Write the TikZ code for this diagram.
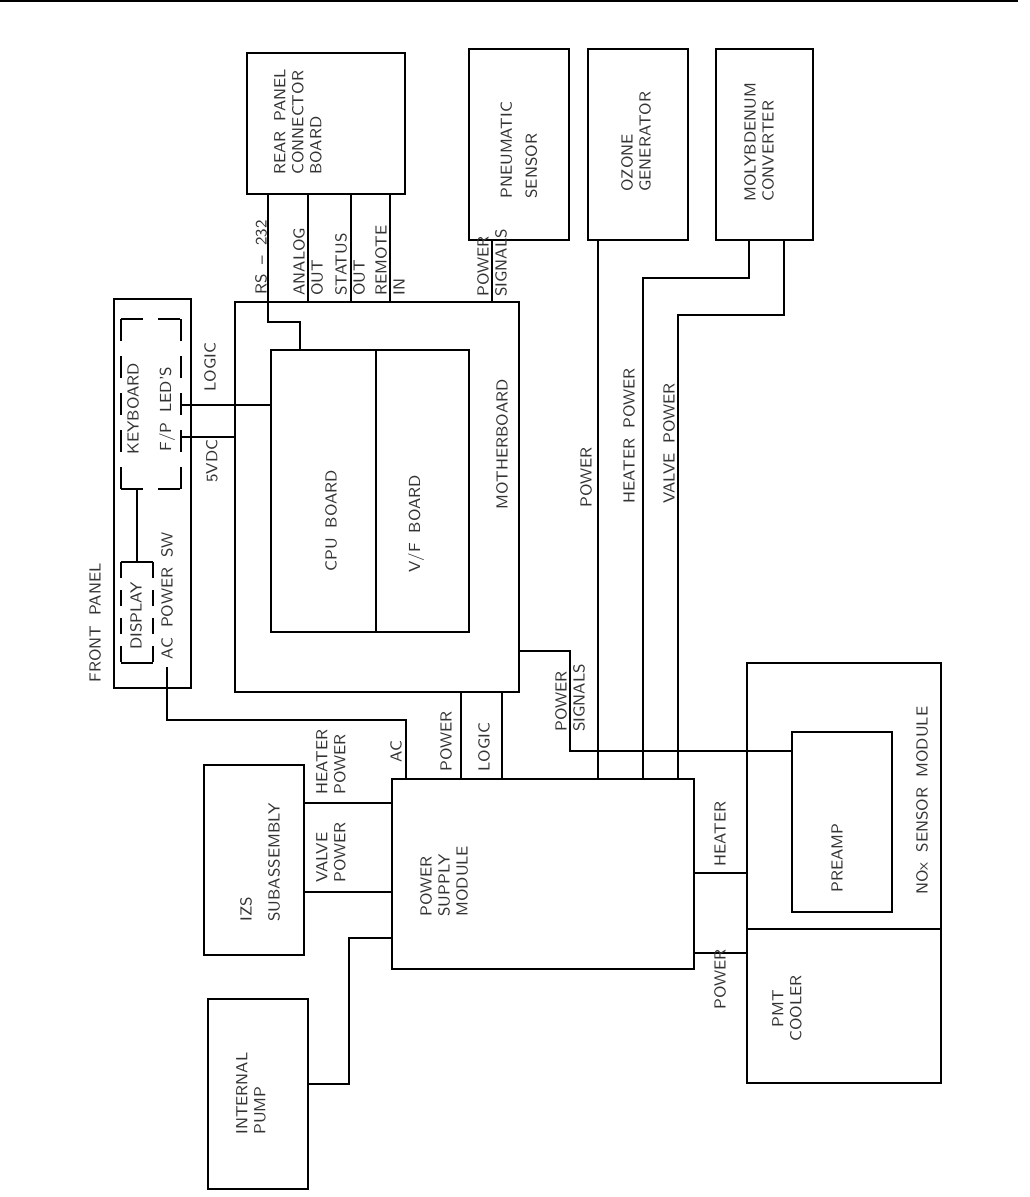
\documentclass[tikz,border=0pt]{standalone}
\usepackage{tikz}
\usetikzlibrary{positioning, fit, calc}
\newcommand{\lblfont}{\fontsize{8}{9}\selectfont\sffamily\spaceskip 5pt\relax}

\begin{document}
\begin{tikzpicture}[
  x=0.5pt, y=-0.5pt,
  box/.style={draw, line width=0.6pt, inner sep=0pt, outer sep=0pt},
  frame/.style={inner sep=0pt, outer sep=0pt},
  wire/.style={line width=0.6pt},
  brk/.style={line width=0.6pt, dash pattern=on 11pt off 7.5pt},
  brkshort/.style={line width=0.6pt, dash pattern=on 8pt off 6pt},
  lbl/.style={rotate=90, anchor=west, inner sep=0pt, align=left,
    font=\lblfont, text=black!80}
]
  \useasboundingbox (0,0) rectangle (1029,1197);
  % Page rule
  \draw[wire] (0,1) -- (1018,1);

  % Front panel
  \node[box, fit={(114,299) (191,688)}] (front) {};
  \node[frame, fit={(121,319) (181,489)}] (kbd) {};
  \node[frame, fit={(121,562) (153,663)}] (disp) {};
  \foreach \a/\b in {north west/north east, south west/south east,
                     north west/south west, north east/south east}
    \draw[brk] (kbd.\a) -- (kbd.\b);
  \draw[wire] (disp.north west) -- (disp.north east);
  \draw[wire] (disp.south west) -- (disp.south east);
  \draw[brkshort] (disp.north west) -- (disp.south west);
  \draw[brkshort] (disp.north east) -- (disp.south east);

  % Boxes
  \node[box, fit={(247,53) (405,194)}] (rear) {};
  \node[box, fit={(469,49) (569,240)}] (pneu) {};
  \node[box, fit={(588,49) (688,240)}] (ozone) {};
  \node[box, fit={(716,49) (813,240)}] (moly) {};
  \node[box, fit={(235,302) (519,692)}] (mb) {};
  \node[box, fit={(271,350) (376,632)}] (cpu) {};
  \node[box, fit={(376,350) (469,632)}] (vf) {};
  \node[box, fit={(392,779) (694,969)}] (psu) {};
  \node[box, fit={(204,765) (304,955)}] (izs) {};
  \node[box, fit={(208,999) (308,1189)}] (pump) {};
  \node[box, fit={(747,663) (941,929)}] (nox) {};
  \node[box, fit={(747,929) (941,1083)}] (pmt) {};
  \node[box, fit={(792,732) (892,912)}] (preamp) {};

  % Rear panel and sensor lines
  \draw[wire] (rear.south -| 268,0) |- (300,322) -- (cpu.north -| 300,0);
  \foreach \x in {308,351,390}
    \draw[wire] (rear.south -| \x,0) -- (mb.north -| \x,0);
  \draw[wire] (pneu.south -| 492,0) -- (mb.north -| 492,0);
  \draw[wire] (ozone.south -| 598,0) -- (psu.north -| 598,0);
  \draw[wire] (moly.south -| 749,0) |- (643,278) -- (psu.north -| 643,0);
  \draw[wire] (moly.south -| 784,0) |- (678,315) -- (psu.north -| 678,0);

  % Front panel lines
  \draw[wire] (kbd.east |- 0,405) -- (cpu.west |- 0,405);
  \draw[wire] (kbd.east |- 0,437) -- (mb.west |- 0,437);
  \draw[wire] (kbd.south -| 137,0) -- (disp.north -| 137,0);
  \coordinate (acsw) at (167,667);
  \draw[wire] (acsw) |- (406,720) -- (psu.north -| 406,0);

  % Motherboard to supply
  \foreach \x in {461,502}
    \draw[wire] (mb.south -| \x,0) -- (psu.north -| \x,0);
  \draw[wire] (mb.east |- 0,651) -| (570,751) -- (preamp.west |- 0,751);

  % Supply side lines
  \foreach \y in {803,892}
    \draw[wire] (izs.east |- 0,\y) -- (psu.west |- 0,\y);
  \draw[wire] (psu.west |- 0,938) -| (349,1084) -- (pump.east |- 0,1084);
  \draw[wire] (psu.east |- 0,873) -- (nox.west |- 0,873);
  \draw[wire] (psu.east |- 0,953) -- (pmt.west |- 0,953);

  % Labels
  \node[lbl] (tFront) at (95,683) {FRONT PANEL};
  \node[lbl] (tKbd) at (133,455) {KEYBOARD};
  \node[lbl] (tLed) at (167,452) {F/P LED'S};
  \node[lbl] (tDisp) at (136,650) {DISPLAY};
  \node[lbl] (tAcsw) at (167,660) {AC POWER SW};
  \node[lbl] (tLogic) at (210,392) {LOGIC};
  \node[lbl] (tVdc) at (212,483) {5VDC};
  \node[lbl] (tCpu) at (331,572) {CPU BOARD};
  \node[lbl] (tVf) at (416,573) {V/F BOARD};
  \node[lbl] (tMb) at (502,510) {MOTHERBOARD};
  \node[lbl] (tRear) at (298,175) {REAR PANEL\\CONNECTOR\\BOARD};
  \node[lbl] (tPneu) at (519,199) {PNEUMATIC\\[3.5pt]SENSOR};
  \node[lbl] (tOzone) at (636,192) {OZONE\\GENERATOR};
  \node[lbl] (tMoly) at (759,202) {MOLYBDENUM\\CONVERTER};
  \node[lbl] (tRs) at (261,295) {RS -- 232};
  \node[lbl] (tAna) at (308,296) {ANALOG\\OUT};
  \node[lbl] (tStat) at (350,296) {STATUS\\OUT};
  \node[lbl] (tRem) at (390,296) {REMOTE\\IN};
  \node[lbl] (tPsig) at (492,297) {POWER\\SIGNALS};
  \node[lbl] (tOzp) at (586,508) {POWER};
  \node[lbl] (tHtp) at (629,504) {HEATER POWER};
  \node[lbl] (tVlp) at (669,504) {VALVE POWER};
  \node[lbl] (tMsig) at (570,732) {POWER\\SIGNALS};
  \node[lbl] (tIzh) at (331,795) {HEATER\\POWER};
  \node[lbl] (tIzv) at (331,883) {VALVE\\POWER};
  \node[lbl] (tAc) at (396,763) {AC};
  \node[lbl] (tMbp) at (446,772) {POWER};
  \node[lbl] (tMbl) at (484,772) {LOGIC};
  \node[lbl] (tPsu) at (444,917) {POWER\\SUPPLY\\MODULE};
  \node[lbl] (tIzs) at (260,922) {IZS\\[5pt]SUBASSEMBLY};
  \node[lbl] (tPump) at (251,1135) {INTERNAL\\PUMP};
  \node[lbl] (tHeat) at (720,867) {HEATER};
  \node[lbl] (tPow) at (720,1010) {POWER};
  \node[lbl] (tPre) at (837,893) {PREAMP};
  \node[lbl] (tNox) at (922,895) {NOx SENSOR MODULE};
  \node[lbl, align=center] (tPmt) at (787,1042) {PMT\\COOLER};
\end{tikzpicture}
\end{document}
